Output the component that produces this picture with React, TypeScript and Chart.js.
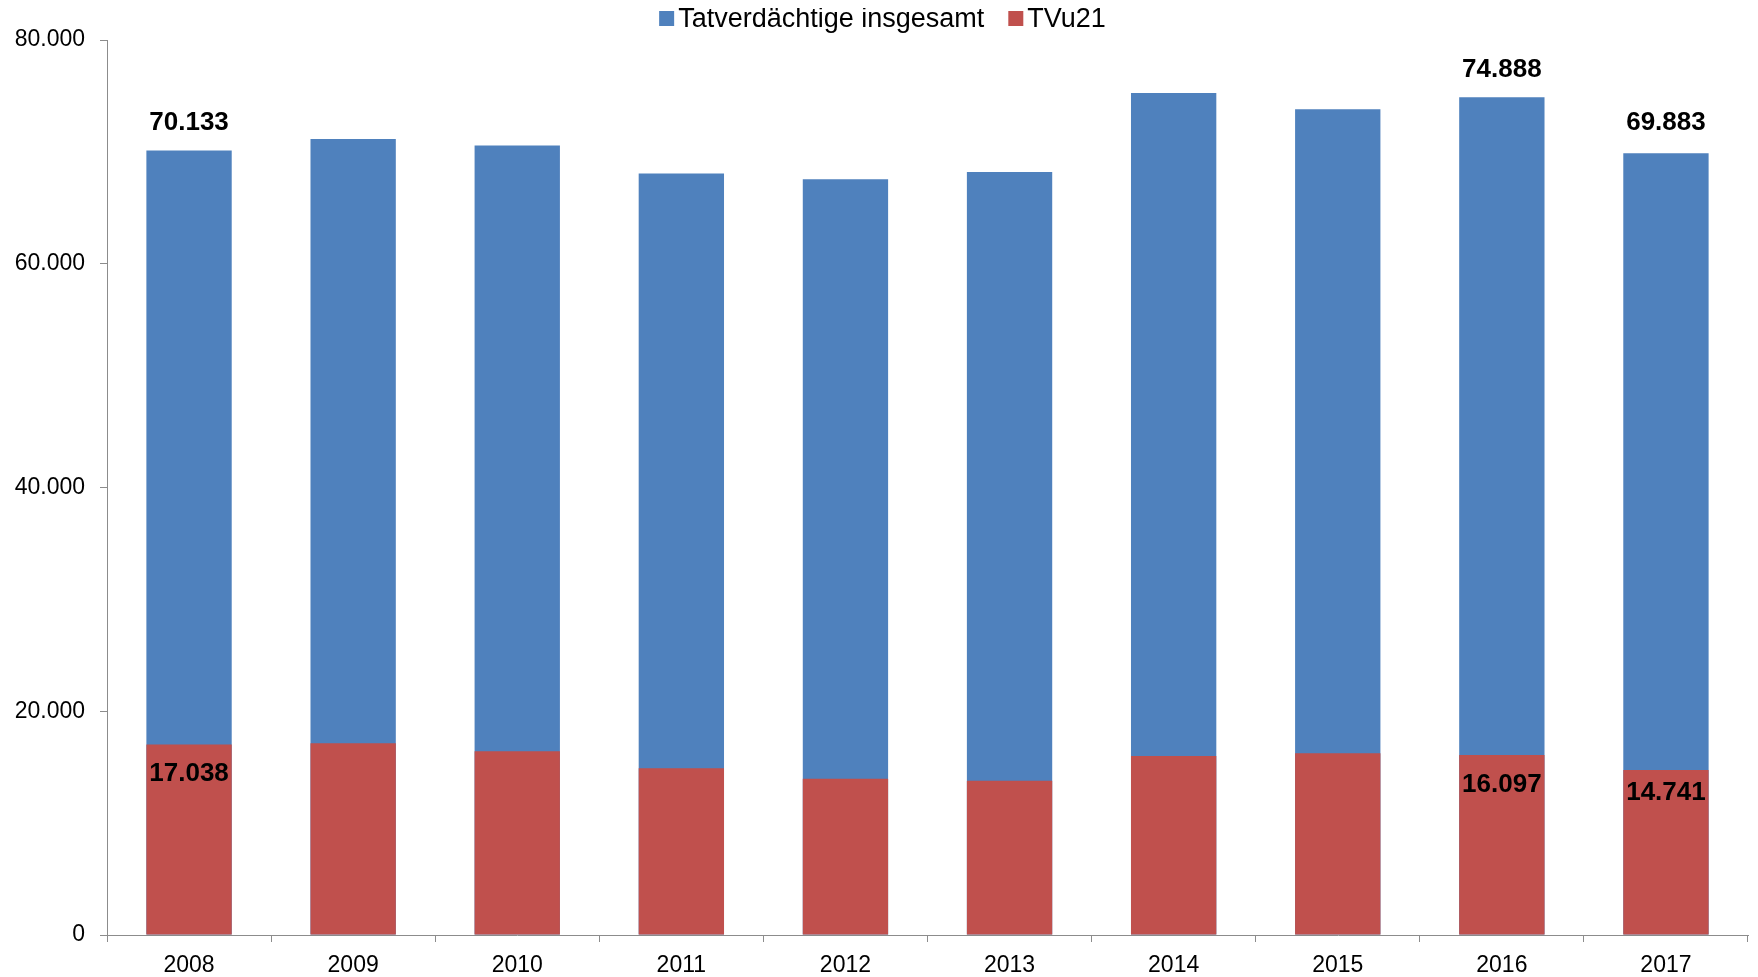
import React, { useEffect, useRef } from "react";
import { Chart, registerables } from "chart.js";

Chart.register(...registerables);

const years = ["2008", "2009", "2010", "2011", "2012", "2013", "2014", "2015", "2016", "2017"];
const totalSuspects = [70133, 71160, 70570, 68070, 67560, 68190, 75270, 73820, 74888, 69883];
const tvu21 = [17038, 17140, 16430, 14910, 13960, 13780, 16010, 16250, 16097, 14741];
const labeledIndices = [0, 8, 9];
const seriesNames = ["Tatverdächtige insgesamt", "TVu21"];
const yTicks = [0, 20000, 40000, 60000, 80000];

const BLUE = "#4F81BD";
const RED = "#C0504D";
const AXIS = "#8C8C8C";
const FONT = "'Liberation Sans', Arial, sans-serif";

function fmt(v: number): string {
  const s = Math.round(v).toString();
  return s.replace(/\B(?=(\d{3})+(?!\d))/g, ".");
}

const totalLabelLift = [20, 0, 0, 0, 0, 0, 0, 0, 20, 23];
const redLabelDrop = [37, 0, 0, 0, 0, 0, 0, 0, 37, 30];

const labelPlugin = {
  id: "valueLabels",
  afterDatasetsDraw(chart: any) {
    const ctx = chart.ctx;
    const blueMeta = chart.getDatasetMeta(0);
    const redMeta = chart.getDatasetMeta(1);
    ctx.save();
    ctx.font = `bold 26px ${FONT}`;
    ctx.fillStyle = "#000";
    ctx.textAlign = "center";
    ctx.textBaseline = "alphabetic";
    labeledIndices.forEach((i) => {
      const b = blueMeta.data[i];
      ctx.fillText(fmt(totalSuspects[i]), b.x, b.y - totalLabelLift[i]);
      const r = redMeta.data[i];
      ctx.fillText(fmt(tvu21[i]), r.x, r.y + redLabelDrop[i]);
    });
    ctx.restore();
  },
};

const legendPlugin = {
  id: "customLegend",
  afterDraw(chart: any) {
    const ctx = chart.ctx;
    ctx.save();
    ctx.font = `27px ${FONT}`;
    const colors = [BLUE, RED];
    const box = 15;
    const gapText = 4;
    const gapItem = 24;
    const widths = seriesNames.map((n) => ctx.measureText(n).width);
    let total = 0;
    widths.forEach((w, i) => {
      total += box + gapText + w + (i < widths.length - 1 ? gapItem : 0);
    });
    let x = chart.width / 2 + 3.5 - total / 2;
    const yBase = 19;
    seriesNames.forEach((n, i) => {
      ctx.fillStyle = colors[i];
      ctx.fillRect(x, 3, box, box);
      x += box + gapText;
      ctx.fillStyle = "#000";
      ctx.textAlign = "left";
      ctx.textBaseline = "alphabetic";
      ctx.fillText(n, x, yBase);
      x += widths[i] + gapItem;
    });
    ctx.restore();
  },
};

export default function App() {
  const ref = useRef<HTMLCanvasElement | null>(null);
  useEffect(() => {
    document.documentElement.style.overflow = "hidden";
    if (!ref.current) return;
    const chart = new Chart(ref.current, {
      type: "bar",
      data: {
        labels: years,
        datasets: [
          {
            label: seriesNames[0],
            data: totalSuspects,
            backgroundColor: BLUE,
            borderWidth: 0,
            order: 2,
            barPercentage: 0.52,
            categoryPercentage: 1,
          },
          {
            label: seriesNames[1],
            data: tvu21,
            backgroundColor: RED,
            borderWidth: 0,
            order: 1,
            barPercentage: 0.52,
            categoryPercentage: 1,
          },
        ],
      },
      options: {
        responsive: false,
        maintainAspectRatio: false,
        animation: false,
        devicePixelRatio: 1,
        layout: { padding: { top: 32, right: 2, left: 0, bottom: 0 } },
        plugins: {
          legend: { display: false },
          tooltip: { enabled: false },
          title: { display: false },
        },
        scales: {
          x: {
            stacked: true,
            offset: true,
            grid: {
              display: true,
              offset: true,
              drawOnChartArea: false,
              drawTicks: true,
              tickLength: 7,
              color: AXIS,
              lineWidth: 1,
            },
            border: { display: true, color: AXIS, width: 1 },
            ticks: {
              color: "#000",
              font: { family: FONT, size: 23 },
              padding: 10,
              maxRotation: 0,
            },
            afterFit(scale: any) {
              scale.height = 42;
            },
          },
          y: {
            stacked: false,
            min: 0,
            max: 80000,
            afterBuildTicks(scale: any) {
              scale.ticks = yTicks.map((v) => ({ value: v }));
            },
            grid: {
              display: true,
              drawOnChartArea: false,
              drawTicks: true,
              tickLength: 7,
              color: AXIS,
              lineWidth: 1,
            },
            border: { display: true, color: AXIS, width: 1 },
            ticks: {
              color: "#000",
              font: { family: FONT, size: 23 },
              padding: 15,
              callback: (v: any) => fmt(Number(v)),
            },
            afterFit(scale: any) {
              scale.width = 99;
            },
          },
        },
      },
      plugins: [labelPlugin, legendPlugin],
    });
    return () => chart.destroy();
  }, []);
  return (
    <div style={{ width: 1742, height: 969 }}>
      <canvas ref={ref} width={1742} height={969} style={{ display: "block" }} />
    </div>
  );
}
